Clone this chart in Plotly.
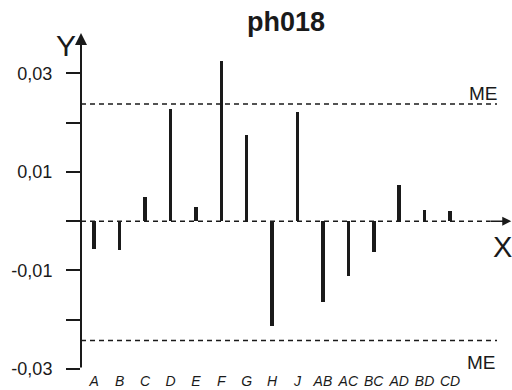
import plotly.graph_objects as go

# Effect estimates per factor / interaction
categories = ["A", "B", "C", "D", "E", "F", "G", "H", "J", "AB", "AC", "BC", "AD", "BD", "CD"]
effects = [-0.0057, -0.0058, 0.0049, 0.0228, 0.0029, 0.0326, 0.0175, -0.0212,
           0.0222, -0.0163, -0.0112, -0.0062, 0.0073, 0.0022, 0.0020]
me_limits = [0.0238, -0.0242]
y_tickvals = [0.03, 0.02, 0.01, 0.0, -0.01, -0.02, -0.03]
y_ticktext = ["0,03", "", "0,01", "", "-0,01", "", "-0,03"]

FONT = "Liberation Sans, Arial, sans-serif"
W, H = 512, 390
L, R, T, B = 81, 0, 33, 21
X_RANGE = [-0.52, 16.44]
Y_RANGE = [-0.03, 0.0382]


def px(xp):
    return (xp - L) / (W - L - R)


def py(yp):
    return 1 - (yp - T) / (H - T - B)


xs = list(range(len(categories)))

fig = go.Figure()
fig.add_trace(go.Bar(
    x=xs, y=effects, base=0, width=0.14,
    marker=dict(color="#1a1a1a", line=dict(width=0)),
    showlegend=False, hoverinfo="skip",
))

dash = "5px,4px"
# zero reference line (dashed) and ME limits
fig.add_shape(type="line", xref="x", yref="y", x0=X_RANGE[0], x1=15.6, y0=0, y1=0,
              line=dict(color="#1a1a1a", width=1.4, dash=dash), layer="below")
for v in me_limits:
    fig.add_shape(type="line", xref="x", yref="y", x0=X_RANGE[0], x1=15.85, y0=v, y1=v,
                  line=dict(color="#1a1a1a", width=1.4, dash=dash), layer="below")

# axis arrows
fig.add_annotation(x=X_RANGE[0], y=Y_RANGE[1], ax=X_RANGE[0], ay=Y_RANGE[0],
                   xref="x", yref="y", axref="x", ayref="y", text="",
                   showarrow=True, arrowhead=2, arrowsize=1.2, arrowwidth=2, arrowcolor="#1a1a1a")
fig.add_annotation(x=X_RANGE[1] - 0.03, y=0, ax=15.55, ay=0,
                   xref="x", yref="y", axref="x", ayref="y", text="",
                   showarrow=True, arrowhead=2, arrowsize=1.2, arrowwidth=1.5, arrowcolor="#1a1a1a")

texts = [
    dict(text="Y", x=px(66), y=py(46), size=30),
    dict(text="X", x=px(502), y=py(247), size=29),
    dict(text="ME", x=px(483), y=py(93), size=19),
    dict(text="ME", x=px(481), y=py(362), size=19),
    dict(text="<b>ph018</b>", x=px(286), y=py(22), size=27),
]
for t in texts:
    fig.add_annotation(text=t["text"], x=t["x"], y=t["y"], xref="paper", yref="paper",
                       showarrow=False, xanchor="center", yanchor="middle",
                       font=dict(family=FONT, size=t["size"], color="#1a1a1a"))

fig.update_layout(
    width=W, height=H,
    margin=dict(l=L, r=R, t=T, b=B, pad=0),
    paper_bgcolor="white", plot_bgcolor="white",
    font=dict(family=FONT, color="#1a1a1a"),
    bargap=0,
    xaxis=dict(range=X_RANGE, tickvals=xs, ticktext=categories, showgrid=False,
               zeroline=False, showline=False, ticks="",
               tickfont=dict(family=FONT, size=14, style="italic"),
               ticklabelstandoff=2),
    yaxis=dict(range=Y_RANGE, tickvals=y_tickvals, ticktext=y_ticktext, showgrid=False,
               zeroline=False, showline=False, ticks="outside", ticklen=14,
               tickwidth=2, tickcolor="#1a1a1a",
               tickfont=dict(family=FONT, size=18), ticklabelstandoff=10),
)

fig.write_html("out.html")
